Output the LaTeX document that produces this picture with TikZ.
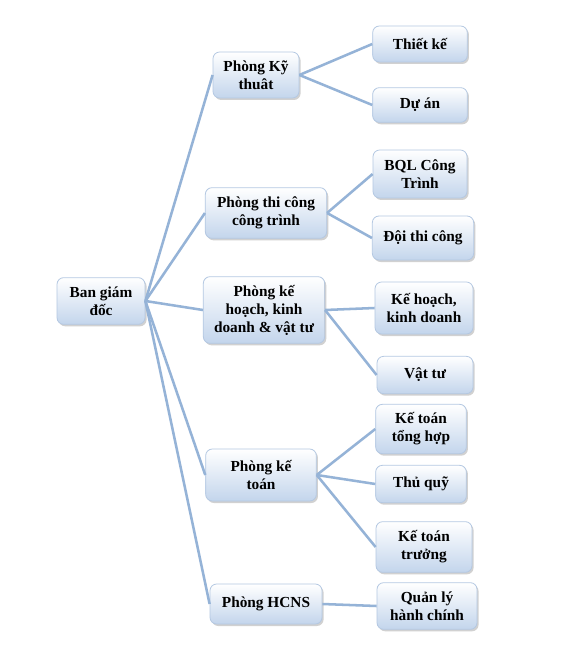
\documentclass[tikz,border=0pt]{standalone}
\usepackage{fontspec}
\setmainfont{Liberation Serif}
\usepackage{xcolor}
\definecolor{edge}{HTML}{95B3D7}
\definecolor{frame}{HTML}{B4C8E2}
\definecolor{shadeblue}{HTML}{C3D5EC}
\usetikzlibrary{positioning,shadows}

\begin{document}
\begin{tikzpicture}[x=0.75pt,y=-0.75pt,
      box/.style={draw=frame,line width=0.6pt,rounded corners=5pt,top color=white,bottom color=shadeblue,
        drop shadow={shadow xshift=1.2pt,shadow yshift=-1.5pt,fill=black!40,opacity=0.45},
        inner sep=2pt,align=center,font=\fontsize{11.5}{13.5}\selectfont\bfseries},
      link/.style={draw=edge,line width=1.9pt}]
      \useasboundingbox[fill=white] (0,0) rectangle (561,645);
      \node[box,minimum width=66pt,minimum height=35pt] (ban) at (101,301) {Ban giám\\đốc};
      \node[box,minimum width=64.5pt,minimum height=34.5pt] (kythuat) at (256,75) {Phòng Kỹ\\thuât};
      \node[box,minimum width=91pt,minimum height=38pt] (thicong) at (266,213) {Phòng thi công\\công trình};
      \node[box,minimum width=91pt,minimum height=50pt] (kehoach) at (264,310) {Phòng kế\\hoạch, kinh\\doanh \& vật tư};
      \node[box,minimum width=83pt,minimum height=39pt] (ketoan) at (261,475) {Phòng kế\\toán};
      \node[box,minimum width=84pt,minimum height=30pt] (hcns) at (266,604) {Phòng HCNS};
      \node[box,minimum width=71pt,minimum height=27pt] (thietke) at (420,44) {Thiết kế};
      \node[box,minimum width=71pt,minimum height=26pt] (duan) at (420,105) {Dự án};
      \node[box,minimum width=70.5pt,minimum height=36pt] (bql) at (420,174) {BQL Công\\Trình};
      \node[box,minimum width=76pt,minimum height=33pt] (doi) at (423,238) {Đội thi công};
      \node[box,minimum width=73.5pt,minimum height=39pt] (khkd) at (424,308) {Kế hoạch,\\kinh doanh};
      \node[box,minimum width=72pt,minimum height=28pt] (vattu) at (425,375) {Vật tư};
      \node[box,minimum width=68pt,minimum height=37pt] (tonghop) at (421,429) {Kế toán\\tổng hợp};
      \node[box,minimum width=68pt,minimum height=28pt] (thuquy) at (421,484) {Thủ quỹ};
      \node[box,minimum width=72pt,minimum height=38pt] (truong) at (424,547) {Kế toán\\trưởng};
      \node[box,minimum width=75pt,minimum height=35pt] (quanly) at (427,606) {Quản lý\\hành chính};
      \draw[link] (ban.east) -- (kythuat.west);
      \draw[link] (ban.east) -- (thicong.west);
      \draw[link] (ban.east) -- (kehoach.west);
      \draw[link] (ban.east) -- (ketoan.west);
      \draw[link] (ban.east) -- (hcns.west);
      \draw[link] (kythuat.east) -- (thietke.west);
      \draw[link] (kythuat.east) -- (duan.west);
      \draw[link] (thicong.east) -- (bql.west);
      \draw[link] (thicong.east) -- (doi.west);
      \draw[link] (kehoach.east) -- (khkd.west);
      \draw[link] (kehoach.east) -- (vattu.west);
      \draw[link] (ketoan.east) -- (tonghop.west);
      \draw[link] (ketoan.east) -- (thuquy.west);
      \draw[link] (ketoan.east) -- (truong.west);
      \draw[link] (hcns.east) -- (quanly.west);
    \end{tikzpicture}
\end{document}
